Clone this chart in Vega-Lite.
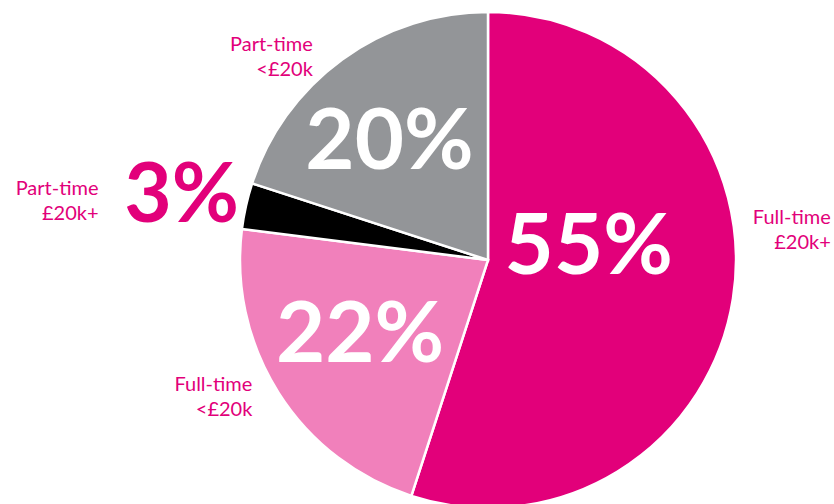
{
  "$schema": "https://vega.github.io/schema/vega-lite/v6.json",
  "width": 692,
  "height": 488,
  "autosize": {"type": "none"},
  "padding": {"left": 142, "right": 0, "top": 16, "bottom": 0},
  "background": "white",
  "config": {"view": {"stroke": null}},
  "data": {
    "values": [
      {"cat": "Full-time £20k+", "label": "Full-time\n£20k+", "value": 55, "pctLabel": "55%", "order": 1},
      {"cat": "Full-time <£20k", "label": "Full-time\n<£20k", "value": 22, "pctLabel": "22%", "order": 2},
      {"cat": "Part-time £20k+", "label": "Part-time\n£20k+", "value": 3, "pctLabel": "3%", "order": 3},
      {"cat": "Part-time <£20k", "label": "Part-time\n<£20k", "value": 20, "pctLabel": "20%", "order": 4}
    ]
  },
  "encoding": {
    "theta": {"field": "value", "type": "quantitative", "stack": true},
    "order": {"field": "order", "type": "quantitative"}
  },
  "layer": [
    {
      "mark": {"type": "arc", "radius": 248, "stroke": "white", "strokeWidth": 2.5},
      "encoding": {
        "color": {
          "field": "cat", "type": "nominal", "legend": null,
          "scale": {
            "domain": ["Full-time £20k+", "Full-time <£20k", "Part-time £20k+", "Part-time <£20k"],
            "range": ["#E2007A", "#F180BB", "#000000", "#939598"]
          }
        }
      }
    },
    {
      "mark": {"type": "text", "radius": 102, "dx": 0, "dy": -28, "font": "Lato", "fontWeight": "bold", "fontSize": 85, "fill": "white", "align": "center", "baseline": "middle"},
      "encoding": {"text": {"condition": {"test": "datum.order === 1", "field": "pctLabel"}, "value": ""}}
    },
    {
      "mark": {"type": "text", "radius": 148, "dx": -3, "dy": -3, "font": "Lato", "fontWeight": "bold", "fontSize": 85, "fill": "white", "align": "center", "baseline": "middle"},
      "encoding": {"text": {"condition": {"test": "datum.order === 2", "field": "pctLabel"}, "value": ""}}
    },
    {
      "mark": {"type": "text", "radius": 315, "dx": 1, "dy": 6, "font": "Lato", "fontWeight": "bold", "fontSize": 82, "fill": "#E2007A", "align": "center", "baseline": "middle"},
      "encoding": {"text": {"condition": {"test": "datum.order === 3", "field": "pctLabel"}, "value": ""}}
    },
    {
      "mark": {"type": "text", "radius": 154, "dx": -8, "dy": 8, "font": "Lato", "fontWeight": "bold", "fontSize": 85, "fill": "white", "align": "center", "baseline": "middle"},
      "encoding": {"text": {"condition": {"test": "datum.order === 4", "field": "pctLabel"}, "value": ""}}
    },
    {
      "mark": {"type": "text", "radius": 344, "dx": 3, "dy": -96, "font": "Lato", "fontSize": 20, "fill": "#E2007A", "align": "right", "baseline": "middle", "lineBreak": "\n", "lineHeight": 25},
      "encoding": {"text": {"condition": {"test": "datum.order === 1", "field": "label"}, "value": ""}}
    },
    {
      "mark": {"type": "text", "radius": 272, "dx": -6, "dy": -21, "font": "Lato", "fontSize": 20, "fill": "#E2007A", "align": "right", "baseline": "middle", "lineBreak": "\n", "lineHeight": 25},
      "encoding": {"text": {"condition": {"test": "datum.order === 2", "field": "label"}, "value": ""}}
    },
    {
      "mark": {"type": "text", "radius": 394, "dx": -5, "dy": 15, "font": "Lato", "fontSize": 20, "fill": "#E2007A", "align": "right", "baseline": "middle", "lineBreak": "\n", "lineHeight": 25},
      "encoding": {"text": {"condition": {"test": "datum.order === 3", "field": "label"}, "value": ""}}
    },
    {
      "mark": {"type": "text", "radius": 269, "dx": -17, "dy": 3, "font": "Lato", "fontSize": 20, "fill": "#E2007A", "align": "right", "baseline": "middle", "lineBreak": "\n", "lineHeight": 25},
      "encoding": {"text": {"condition": {"test": "datum.order === 4", "field": "label"}, "value": ""}}
    }
  ]
}
